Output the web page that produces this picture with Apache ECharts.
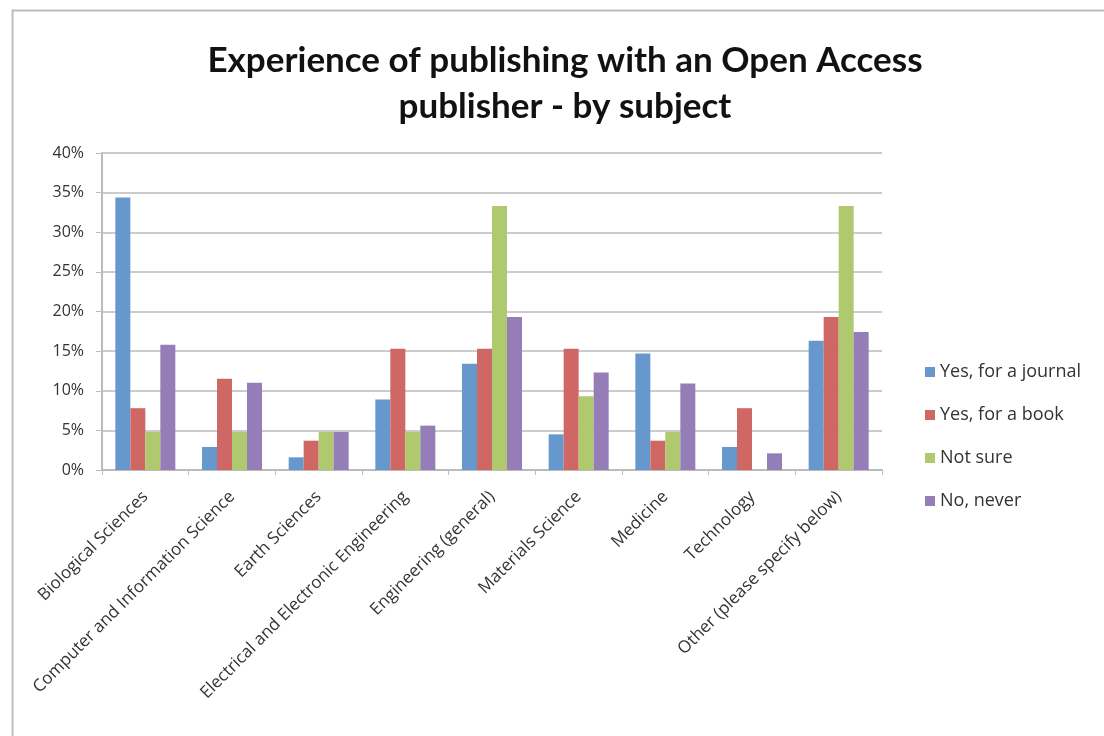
<!DOCTYPE html>
<html>
<head>
<meta charset="utf-8">
<script src="https://cdn.jsdelivr.net/npm/echarts@6/dist/echarts.min.js"></script>
<style>
  html, body { margin: 0; padding: 0; background: #fff; }
  #chart { width: 1104px; height: 736px; }
</style>
</head>
<body>
<div id="chart"></div>
<script>
const categories = [
  'Biological Sciences',
  'Computer and Information Science',
  'Earth Sciences',
  'Electrical and Electronic Engineering',
  'Engineering (general)',
  'Materials Science',
  'Medicine',
  'Technology',
  'Other (please specify below)'
]
const seriesNames = ['Yes, for a journal', 'Yes, for a book', 'Not sure', 'No, never']
const journal = [34.4, 2.9, 1.6, 8.9, 13.4, 4.5, 14.7, 2.9, 16.3]
const book = [7.8, 11.5, 3.7, 15.3, 15.3, 15.3, 3.7, 7.8, 19.3]
const notSure = [4.8, 4.8, 4.8, 4.8, 33.3, 9.3, 4.8, 0, 33.3]
const never = [15.8, 11.0, 4.8, 5.6, 19.3, 12.3, 10.9, 2.1, 17.4]
const yTicks = [0, 5, 10, 15, 20, 25, 30, 35, 40]

const colors = ['#6798CD', '#CF6864', '#AEC96E', '#957DB8']
const values = [journal, book, notSure, never]

const myChart = echarts.init(document.getElementById('chart'))

const options = {
  color: colors,
  textStyle: { fontFamily: 'Open Sans' },
  graphic: [
    {
      type: 'rect',
      shape: { x: 12.5, y: 10.5, width: 1100, height: 740 },
      style: { fill: 'none', stroke: '#bdbdbd', lineWidth: 2 }
    }
  ],
  title: {
    text: 'Experience of publishing with an Open Access\npublisher - by subject',
    left: 560,
    textAlign: 'center',
    top: 33,
    textStyle: {
      fontFamily: 'Lato',
      fontSize: 35,
      fontWeight: 'bold',
      color: '#111',
      lineHeight: 46
    }
  },
  legend: {
    orient: 'vertical',
    left: 920,
    top: 358,
    itemWidth: 10,
    itemHeight: 10,
    itemGap: 25,
    icon: 'rect',
    textStyle: { fontSize: 18, color: '#333', fontFamily: 'Open Sans' },
    data: seriesNames
  },
  grid: {
    left: 102,
    right: 222,
    top: 153,
    bottom: 266,
    containLabel: false
  },
  xAxis: {
    type: 'category',
    data: categories,
    axisLine: { lineStyle: { color: '#bbbbbb', width: 2 } },
    axisTick: { show: true, length: 5, lineStyle: { color: '#bbbbbb' } },
    axisLabel: {
      rotate: 45,
      interval: 0,
      fontSize: 17,
      color: '#333',
      margin: 24
    }
  },
  yAxis: {
    type: 'value',
    min: 0,
    max: 40,
    interval: 5,
    axisLine: { show: true, lineStyle: { color: '#bbbbbb', width: 2 } },
    axisTick: { show: true, length: 6, lineStyle: { color: '#bbbbbb' } },
    axisLabel: {
      fontSize: 16,
      color: '#333',
      margin: 18,
      formatter: v => (yTicks.includes(v) ? v + '%' : '')
    },
    splitLine: { lineStyle: { color: '#cccccc', width: 2 } }
  },
  series: seriesNames.map((name, i) => ({
    name: name,
    type: 'bar',
    data: values[i],
    barWidth: 15,
    barGap: '0%',
    barCategoryGap: '31%',
    itemStyle: { color: colors[i] }
  }))
}

myChart.setOption(options)
</script>
</body>
</html>
